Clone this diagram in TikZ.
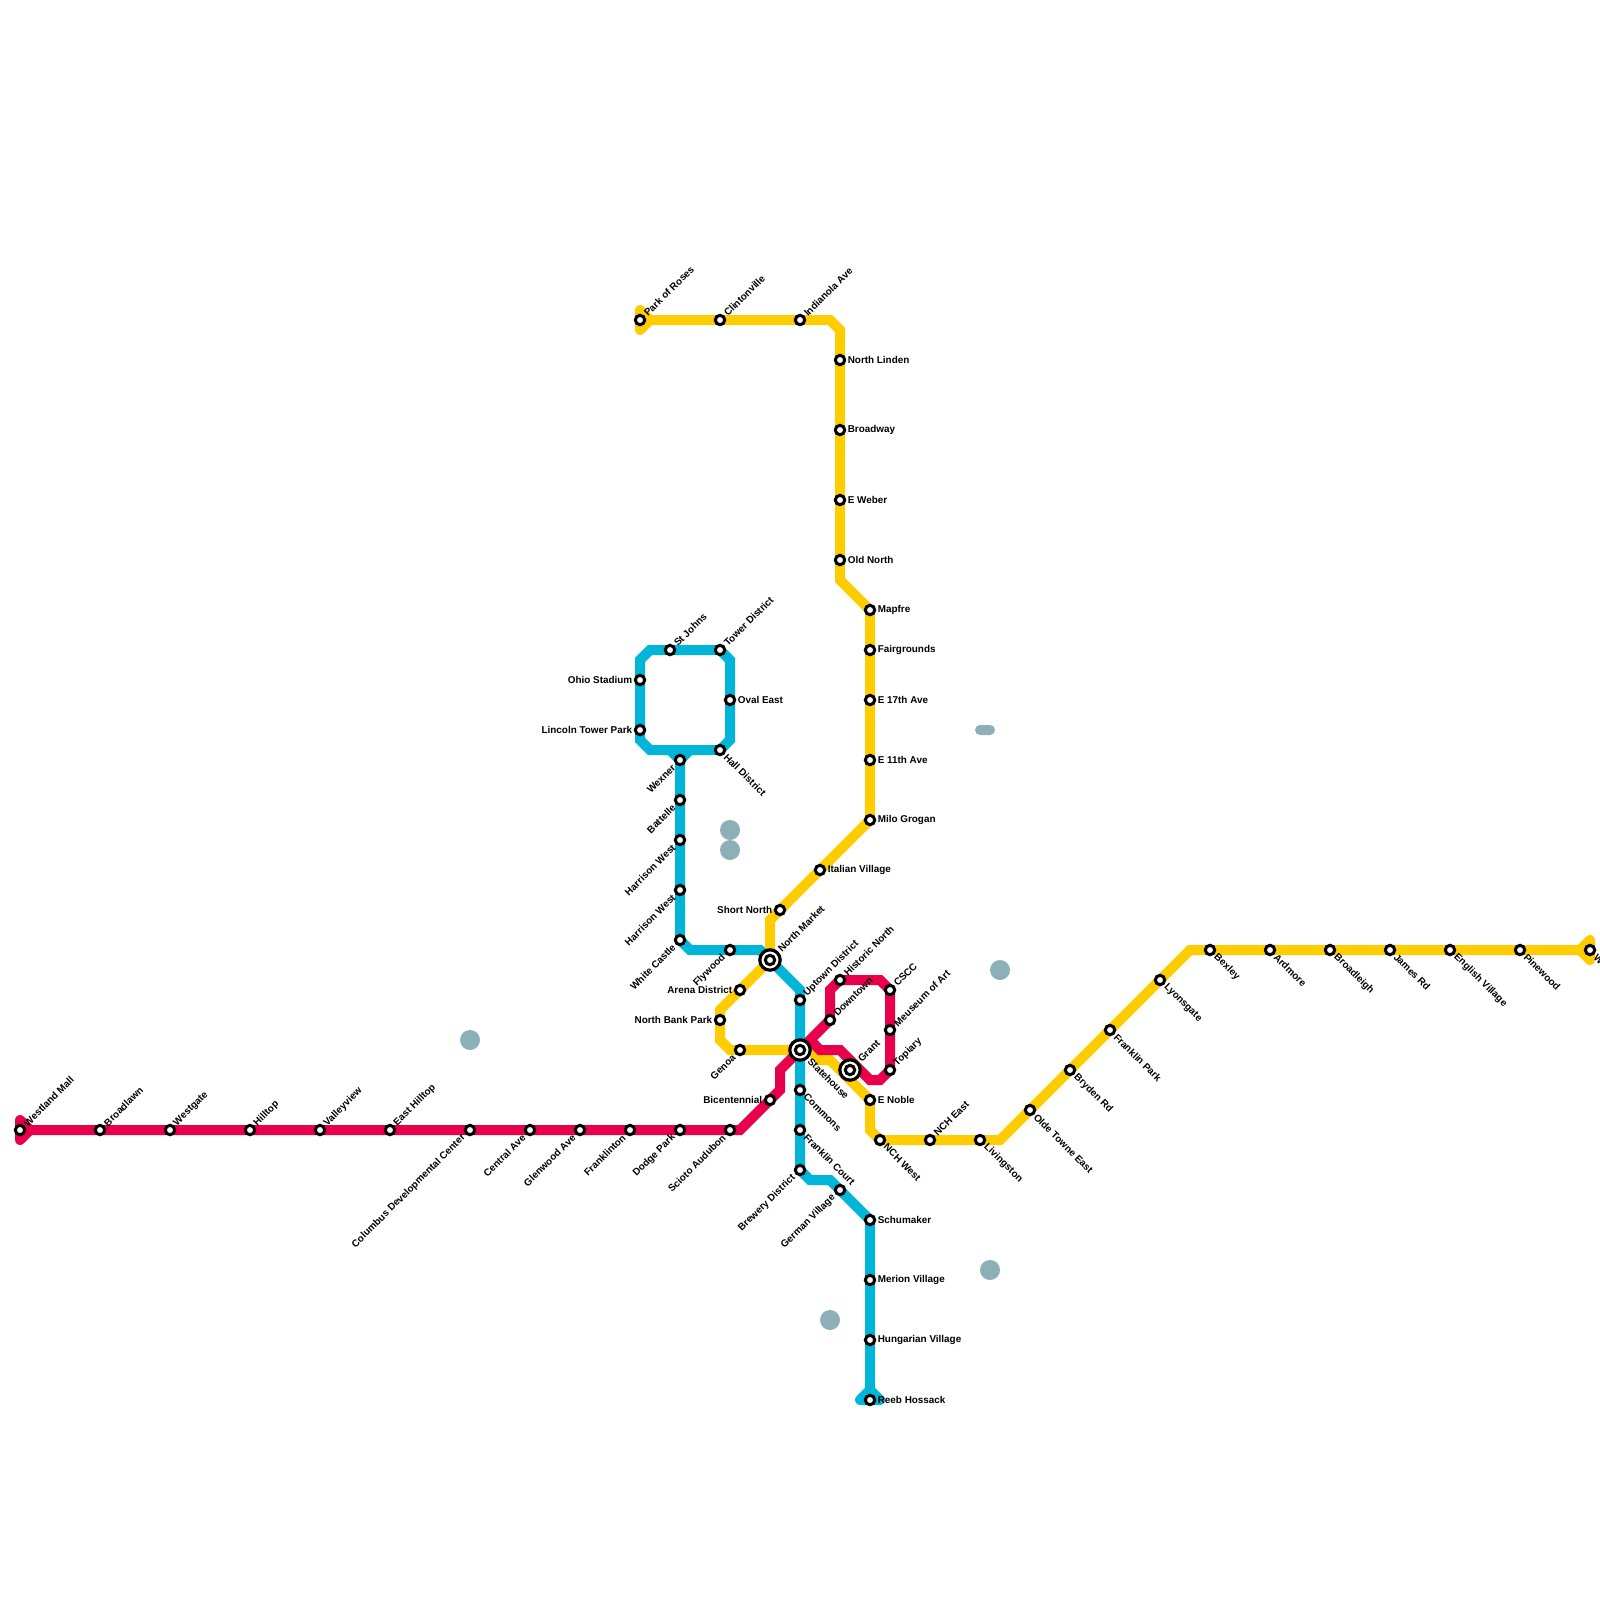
\documentclass[tikz,border=0pt]{standalone}
\usepackage{fontspec}
\setmainfont{Liberation Sans}
\pgfdeclarelayer{lines}
\pgfsetlayers{lines,main}
\definecolor{redline}{HTML}{E8004A}
\definecolor{yellowline}{HTML}{FFCC00}
\definecolor{blueline}{HTML}{00B5D8}
\definecolor{blobcol}{HTML}{8DB0B8}
\tikzset{
  metro/.style={line width=5pt,line join=miter,line cap=round},
  metrocap/.style={line width=5pt,line join=round,line cap=round},
  stnbase/.style={circle,draw=black,fill=white,line width=1.5pt,minimum size=4.7pt,inner sep=0pt},
  hubouter/.style={circle,draw=black,fill=white,line width=1.6pt,minimum size=10.2pt,inner sep=0pt},
  txt/.style={inner sep=0pt,font=\bfseries\fontsize{4.95}{6}\selectfont,text=black},
  lne/.style={txt,anchor=west,rotate=45,xshift=3.7pt},
  lnw/.style={txt,anchor=east,rotate=45,xshift=-4.2pt},
  lse/.style={txt,anchor=west,rotate=-45,xshift=3.7pt},
  lr/.style={txt,anchor=west,xshift=3.7pt},
  ll/.style={txt,anchor=east,xshift=-3.7pt},
  hne/.style={txt,anchor=west,rotate=45,xshift=6.6pt},
  hse/.style={txt,anchor=west,rotate=-45,xshift=6.6pt},
  blob/.style={circle,fill=blobcol,minimum size=10pt,inner sep=0pt},
}
\newcommand{\stn}[5]{\node[stnbase] (#1) at (#2,#3) {}; \node[#4] (#1-l) at (#1.center) {#5};}
\newcommand{\hub}[5]{\node[hubouter] (#1-o) at (#2,#3) {}; \node[stnbase] (#1) at (#2,#3) {}; \node[#4] (#1-l) at (#1.center) {#5};}
\begin{document}
\begin{tikzpicture}[x=0.5pt,y=-0.5pt]
\useasboundingbox (0,0) rectangle (1600,1600);
\clip (0,0) rectangle (1600,1600);
% scenery
\node[blob] (b1) at (470,1040) {};
\node[blob] (b2) at (730,830) {};
\node[blob] (b3) at (730,850) {};
\node[blob] (b4) at (1000,970) {};
\node[blob] (b5) at (990,1270) {};
\node[blob] (b6) at (830,1320) {};
\node[fill=blobcol,rounded corners=2.5pt,minimum width=10pt,minimum height=5pt,inner sep=0pt] (b7) at (985,730) {};
% waypoints
\foreach \n/\x/\y in {
 rt1/20/1120,rt2/20/1140,rt3/30/1130,rb1/740/1130,rb2/780/1090,rb3/780/1070,rb4/830/990,rb5/880/980,rb6/890/990,
 rb7/810/1040,rb8/820/1050,rb9/840/1050,rb10/870/1080,rb11/880/1080,
 yt1/640/310,yt2/640/330,yt3/650/320,yb1/830/320,yb2/840/330,yb3/840/580,yb4/770/920,yb5/720/1010,yb6/720/1040,yb6b/730/1050,
 yb7/810/1050,yb8/820/1060,yb9/830/1060,yb10/870/1130,yb11/1000/1140,yb12/1190/950,yt4/1590/940,yt5/1590/960,yt6/1580/950,
 bt1/860/1400,bt2/880/1400,bt3/870/1390,bb1/830/1180,bb2/810/1180,bb3/800/990,bb4/690/950,bb5/760/950,
 bl1/640/740,bl2/650/750,bl3/730/740,bl4/730/660,bl5/650/650,bl6/640/660,bw1/670/750,bw2/690/750}
 {\coordinate (\n) at (\x,\y);}
% red
\stn{westland}{20}{1130}{lne}{Westland Mall}
\stn{broadlawn}{100}{1130}{lne}{Broadlawn}
\stn{westgate}{170}{1130}{lne}{Westgate}
\stn{hilltop}{250}{1130}{lne}{Hilltop}
\stn{valleyview}{320}{1130}{lne}{Valleyview}
\stn{easthilltop}{390}{1130}{lne}{East Hilltop}
\stn{columbus}{470}{1130}{lnw}{Columbus Developmental Center}
\stn{central}{530}{1130}{lnw}{Central Ave}
\stn{glenwood}{580}{1130}{lnw}{Glenwood Ave}
\stn{franklinton}{630}{1130}{lnw}{Franklinton}
\stn{dodge}{680}{1130}{lnw}{Dodge Park}
\stn{scioto}{730}{1130}{lnw}{Scioto Audubon}
\stn{bicent}{770}{1100}{ll}{Bicentennial}
\stn{downtown}{830}{1020}{lne}{Downtown}
\stn{historic}{840}{980}{lne}{Historic North}
\stn{cscc}{890}{990}{lne}{CSCC}
\stn{meuseum}{890}{1030}{lne}{Meuseum of Art}
\stn{topiary}{890}{1070}{lne}{Topiary}
% yellow
\stn{roses}{640}{320}{lne}{Park of Roses}
\stn{clinton}{720}{320}{lne}{Clintonville}
\stn{indianola}{800}{320}{lne}{Indianola Ave}
\stn{nlinden}{840}{360}{lr}{North Linden}
\stn{broadway}{840}{430}{lr}{Broadway}
\stn{eweber}{840}{500}{lr}{E Weber}
\stn{oldnorth}{840}{560}{lr}{Old North}
\stn{mapfre}{870}{610}{lr}{Mapfre}
\stn{fair}{870}{650}{lr}{Fairgrounds}
\stn{e17}{870}{700}{lr}{E 17th Ave}
\stn{e11}{870}{760}{lr}{E 11th Ave}
\stn{milo}{870}{820}{lr}{Milo Grogan}
\stn{italian}{820}{870}{lr}{Italian Village}
\stn{shortn}{780}{910}{ll}{Short North}
\stn{arena}{740}{990}{ll}{Arena District}
\stn{nbank}{720}{1020}{ll}{North Bank Park}
\stn{genoa}{740}{1050}{lnw}{Genoa}
\stn{enoble}{870}{1100}{lr}{E Noble}
\stn{nchw}{880}{1140}{lse}{NCH West}
\stn{nche}{930}{1140}{lne}{NCH East}
\stn{living}{980}{1140}{lse}{Livingston}
\stn{olde}{1030}{1110}{lse}{Olde Towne East}
\stn{bryden}{1070}{1070}{lse}{Bryden Rd}
\stn{fpark}{1110}{1030}{lse}{Franklin Park}
\stn{lyons}{1160}{980}{lse}{Lyonsgate}
\stn{bexley}{1210}{950}{lse}{Bexley}
\stn{ardmore}{1270}{950}{lse}{Ardmore}
\stn{broadl}{1330}{950}{lse}{Broadleigh}
\stn{james}{1390}{950}{lse}{James Rd}
\stn{english}{1450}{950}{lse}{English Village}
\stn{pine}{1520}{950}{lse}{Pinewood}
\stn{white}{1590}{950}{lse}{Whitehall}
% blue
\stn{stjohns}{670}{650}{lne}{St Johns}
\stn{tower}{720}{650}{lne}{Tower District}
\stn{ohio}{640}{680}{ll}{Ohio Stadium}
\stn{lincoln}{640}{730}{ll}{Lincoln Tower Park}
\stn{oval}{730}{700}{lr}{Oval East}
\stn{hall}{720}{750}{lse}{Hall District}
\stn{wexner}{680}{760}{lnw}{Wexner}
\stn{battelle}{680}{800}{lnw}{Battelle}
\stn{harw1}{680}{840}{lnw}{Harrison West}
\stn{harw2}{680}{890}{lnw}{Harrison West}
\stn{wcastle}{680}{940}{lnw}{White Castle}
\stn{flywood}{730}{950}{lnw}{Flywood}
\stn{uptown}{800}{1000}{lne}{Uptown District}
\stn{commons}{800}{1090}{lse}{Commons}
\stn{fcourt}{800}{1130}{lse}{Franklin Court}
\stn{brewery}{800}{1170}{lnw}{Brewery District}
\stn{german}{840}{1190}{lnw}{German Village}
\stn{schu}{870}{1220}{lr}{Schumaker}
\stn{merion}{870}{1280}{lr}{Merion Village}
\stn{hungar}{870}{1340}{lr}{Hungarian Village}
\stn{reeb}{870}{1400}{lr}{Reeb Hossack}
% interchanges
\hub{market}{770}{960}{hne}{North Market}
\hub{state}{800}{1050}{hse}{Statehouse}
\hub{grant}{850}{1070}{hne}{Grant}
\begin{pgfonlayer}{lines}
% yellow line
\filldraw[metrocap,draw=yellowline,fill=yellowline] (yt1) -- (yt3) -- (yt2) -- cycle;
\filldraw[metrocap,draw=yellowline,fill=yellowline] (yt4) -- (yt6) -- (yt5) -- cycle;
\draw[metro,yellowline] (roses.center) -- (clinton.center) -- (indianola.center) -- (yb1) -- (yb2) -- (nlinden.center) -- (broadway.center) -- (eweber.center) -- (oldnorth.center) -- (yb3) -- (mapfre.center) -- (fair.center) -- (e17.center) -- (e11.center) -- (milo.center) -- (italian.center) -- (shortn.center) -- (yb4) -- (market.center) -- (arena.center) -- (yb5) -- (nbank.center) -- (yb6) -- (yb6b) -- (genoa.center) -- (state.center) -- (yb7) -- (yb8) -- (yb9) -- (enoble.center) -- (yb10) -- (nchw.center) -- (nche.center) -- (living.center) -- (yb11) -- (olde.center) -- (bryden.center) -- (fpark.center) -- (lyons.center) -- (yb12) -- (bexley.center) -- (ardmore.center) -- (broadl.center) -- (james.center) -- (english.center) -- (pine.center) -- (white.center);
% blue line
\filldraw[metrocap,draw=blueline,fill=blueline] (bt1) -- (bt3) -- (bt2) -- cycle;
\draw[metro,blueline] (reeb.center) -- (hungar.center) -- (merion.center) -- (schu.center) -- (german.center) -- (bb1) -- (bb2) -- (brewery.center) -- (fcourt.center) -- (commons.center) -- (state.center) -- (uptown.center) -- (bb3) -- (market.center) -- (bb5) -- (flywood.center) -- (bb4) -- (wcastle.center) -- (harw2.center) -- (harw1.center) -- (battelle.center) -- (wexner.center);
\draw[metrocap,blueline] (bw1) -- (wexner.center) -- (bw2);
\draw[metro,blueline] (bl1) -- (bl2) -- (hall.center) -- (bl3) -- (bl4) -- (tower.center) -- (stjohns.center) -- (bl5) -- (bl6) -- (ohio.center) -- (lincoln.center) -- cycle;
% red line
\filldraw[metrocap,draw=redline,fill=redline] (rt1) -- (rt3) -- (rt2) -- cycle;
\draw[metro,redline] (westland.center) -- (broadlawn.center) -- (westgate.center) -- (hilltop.center) -- (valleyview.center) -- (easthilltop.center) -- (columbus.center) -- (central.center) -- (glenwood.center) -- (franklinton.center) -- (dodge.center) -- (scioto.center) -- (rb1) -- (bicent.center) -- (rb2) -- (rb3) -- (state.center) -- (downtown.center) -- (rb4) -- (historic.center) -- (rb5) -- (rb6) -- (cscc.center) -- (meuseum.center) -- (topiary.center) -- (rb11) -- (rb10) -- (rb9) -- (rb8) -- (rb7);
\end{pgfonlayer}
\end{tikzpicture}
\end{document}
